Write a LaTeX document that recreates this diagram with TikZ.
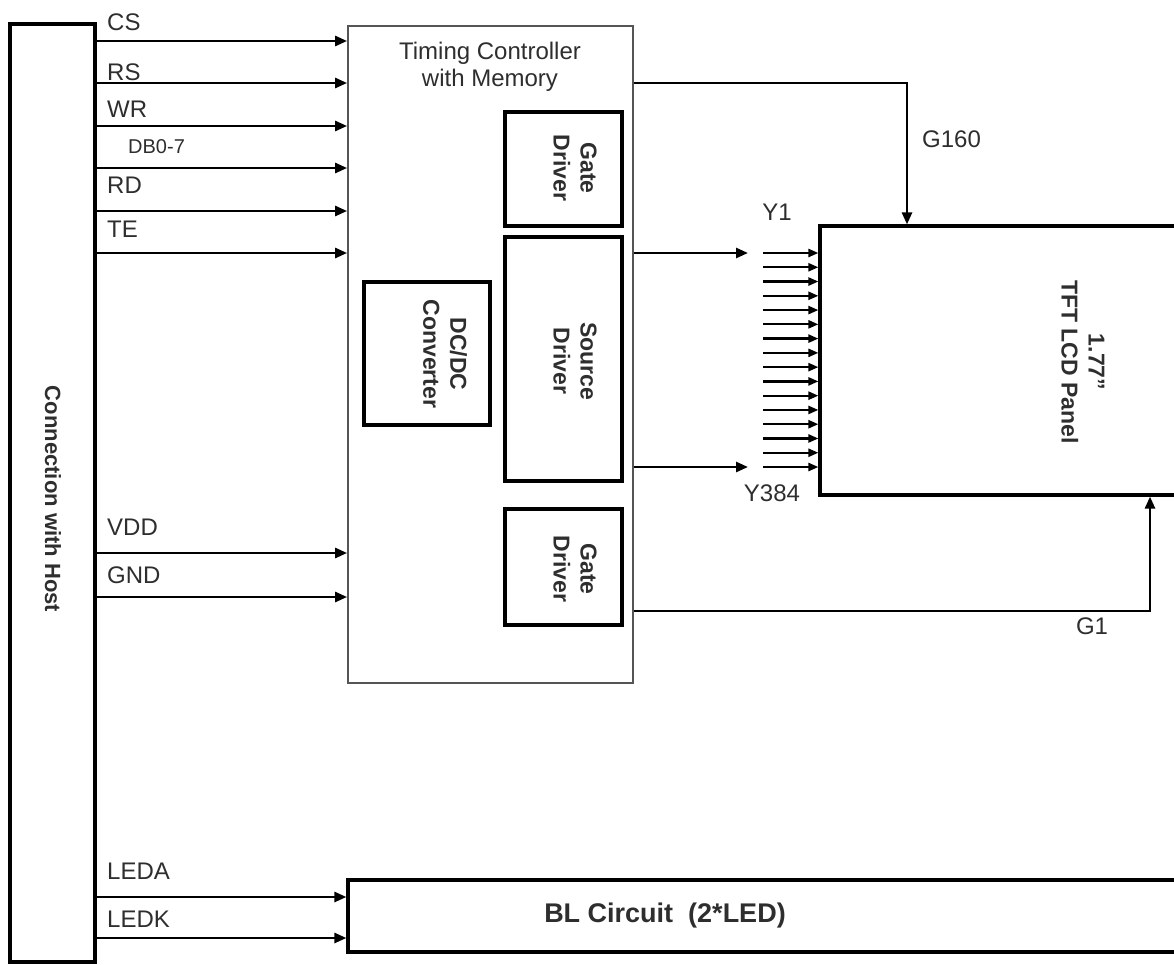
\documentclass[tikz,border=0pt]{standalone}
\usepackage{fontspec}
\setmainfont{Liberation Sans}
\usepackage{xcolor}
\definecolor{inkText}{HTML}{2E2E2E}
\definecolor{frameGray}{HTML}{555555}
\usetikzlibrary{arrows.meta,positioning,calc}
\tikzset{
    % plain boxes
    blockbox/.style={draw, line width=3.2pt, inner sep=0pt},
    ctrlbox/.style={draw=frameGray, line width=1.8pt, inner sep=0pt},
    % rotated bold captions
    vlabel/.style={rotate=-90, align=center, text=inkText,
        font=\bfseries\fontsize{23}{27}\selectfont},
    % signal names
    siglabel/.style={anchor=base west, inner sep=0pt, text=inkText},
    % connectors
    sig/.style={-{Triangle[length=12pt, width=10pt]}, line width=2.6pt},
    fan/.style={-{Triangle[length=10pt, width=8pt]}, line width=2.3pt},
}
\begin{document}
\begin{tikzpicture}[x=1pt, y=-1pt, font=\fontsize{24}{27}\selectfont]
    \useasboundingbox (0,0) rectangle (1174,964);

    % host, controller and its blocks
    \node (host) [blockbox, minimum width=85pt, minimum height=938pt] at (52.5,493) {};
    \node (tcon) [ctrlbox, minimum width=285pt, minimum height=657pt] at (490.5,354.5) {};
    \node (gatetop) [blockbox, minimum width=117pt, minimum height=114pt] at (563.5,169) {};
    \node (source) [blockbox, minimum width=117pt, minimum height=244pt] at (563.5,359) {};
    \node (dcdc) [blockbox, minimum width=126pt, minimum height=143pt] at (427,353.5) {};
    \node (gatebot) [blockbox, minimum width=117pt, minimum height=116pt] at (563.5,567) {};
    \node (panel) [blockbox, minimum width=360pt, minimum height=269pt] at (1000,360.5) {};
    \node (bl) [blockbox, minimum width=832pt, minimum height=72pt] at (764,916) {};

    % captions
    \node (hostText) [vlabel, font=\bfseries\fontsize{22}{26}\selectfont] at (53,499) {Connection with Host};
    \node (tconText) [align=center, text=inkText] at (490,67) {Timing Controller\\with Memory};
    \node (gatetopText) [vlabel] at (575,168) {Gate\\Driver};
    \node (sourceText) [vlabel] at (575,361) {Source\\Driver};
    \node (dcdcText) [vlabel] at (445,354) {DC/DC\\Converter};
    \node (gatebotText) [vlabel] at (575,569) {Gate\\Driver};
    \node (panelText) [vlabel] at (1083,362) {1.77''\\TFT LCD Panel};
    \node (blText) [text=inkText, font=\bfseries\fontsize{27}{30}\selectfont] at (665,916) {BL Circuit\ \ (2*LED)};

    % host signals
    \foreach \name/\y in {cs/41, rs/83, wr/126, db/168, rd/211, te/253, vdd/553, gnd/597} {
        \coordinate (\name) at (0,\y);
        \draw [sig] (host.east |- \name) -- (tcon.west |- \name);
    }
    \foreach \name/\y in {leda/897, ledk/938} {
        \coordinate (\name) at (0,\y);
        \draw [sig] (host.east |- \name) -- (bl.west |- \name);
    }
    \foreach \name/\txt/\x/\y in {csL/CS/107/30, rsL/RS/107/80, wrL/WR/107/117,
            rdL/RD/107/193, teL/TE/107/237, vddL/VDD/107/535, gndL/GND/107/583,
            ledaL/LEDA/107/879, ledkL/LEDK/107/927}
        \node (\name) [siglabel] at (\x,\y) {\txt};
    \node (dbL) [siglabel, font=\fontsize{20}{24}\selectfont] at (128,153) {DB0-7};

    % source outputs
    \coordinate (yfirst) at (748,253);
    \coordinate (ylast) at (748,467);
    \draw [sig] (tcon.east |- yfirst) -- (yfirst);
    \draw [sig] (tcon.east |- ylast) -- (ylast);
    \foreach \i in {0,...,15} {
        \coordinate (fan\i) at (763,{253+14.267*\i});
        \draw [fan] (fan\i) -- (panel.west |- fan\i);
    }
    \node (y1L) [text=inkText] at (777,212) {Y1};
    \node (y384L) [text=inkText] at (772,493) {Y384};

    % gate lines
    \coordinate (g160) at (907,83);
    \coordinate (g1) at (1150,611);
    \draw [sig] (tcon.east |- g160) -| (g160 |- panel.north);
    \draw [sig] (tcon.east |- g1) -| (g1 |- panel.south);
    \node (g160L) [siglabel] at (922,147) {G160};
    \node (g1L) [text=inkText] at (1092,626) {G1};
\end{tikzpicture}
\end{document}
